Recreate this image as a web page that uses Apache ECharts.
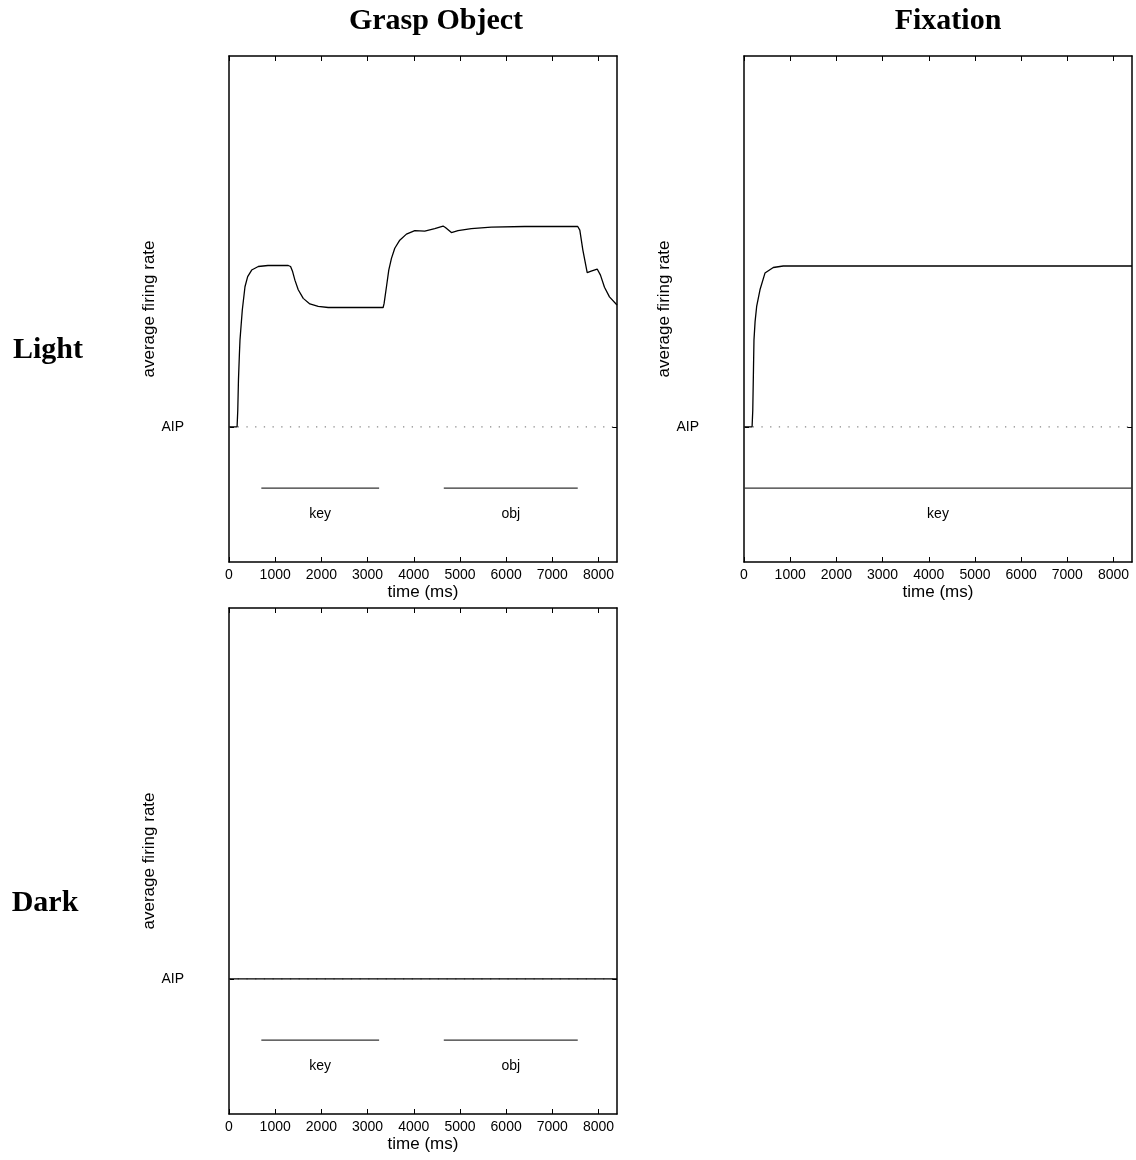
<!DOCTYPE html>
<html><head><meta charset="utf-8">
<script src="https://cdn.jsdelivr.net/npm/echarts@6/dist/echarts.min.js"></script>
<style>html,body{margin:0;padding:0;background:#fff}#c{width:1136px;height:1160px}</style>
</head><body><div id="c"></div>
<script>
// ---- data ----
const columnTitles = ['Grasp Object', 'Fixation'];
const rowTitles = ['Light', 'Dark'];
const xTickValues = [0, 1000, 2000, 3000, 4000, 5000, 6000, 7000, 8000];
const timeMax = 8400;
const rateMax = 100;
const aipLevel = 26.7;       // baseline (AIP) level
const eventBarLevel = 14.6;  // level of event bars
const eventLabelLevel = 9.5; // level of event labels

const graspLightTime = [0,175,190,205,225,238,259,288,346,404,491,634,843,1283,1333,1377,1427,1499,1607,1751,1931,2147,3337,3358,3409,3459,3517,3589,3697,3841,4022,4238,4454,4634,4685,4815,4958,5246,5678,6400,7550,7595,7660,7755,7841,7971,8042,8129,8237,8400];
const graspLightRate = [26.7,26.7,30,36,41,43.9,46.4,49.8,54.4,56.4,57.7,58.4,58.6,58.6,58.4,57.4,55.7,53.8,52.1,51.0,50.5,50.3,50.3,51.1,54.4,57.7,60.0,62.0,63.6,64.8,65.5,65.4,65.9,66.4,66.1,65.1,65.5,65.9,66.2,66.3,66.3,65.6,61.7,57.2,57.5,57.9,56.7,54.3,52.4,50.8];

const fixationLightTime = [0,175,190,205,216,240,274,346,454,634,850,8400];
const fixationLightRate = [26.7,26.7,30,38,43.9,47.5,50.5,53.8,57.1,58.2,58.5,58.5];

const graspDarkTime = [0, 8400];
const graspDarkRate = [26.7, 26.7];

const graspEventNames = ['key', 'obj'];
const graspEventStart = [700, 4650];
const graspEventEnd = [3250, 7550];

const fixationEventNames = ['key'];
const fixationEventStart = [0];
const fixationEventEnd = [8400];

// ---- chart ----
const panels = [
  {grid: {left: 229, top: 56, width: 388, height: 506}, time: graspLightTime, rate: graspLightRate,
   ev: [graspEventNames, graspEventStart, graspEventEnd]},
  {grid: {left: 744, top: 56, width: 388, height: 506}, time: fixationLightTime, rate: fixationLightRate,
   ev: [fixationEventNames, fixationEventStart, fixationEventEnd]},
  {grid: {left: 229, top: 608, width: 388, height: 506}, time: graspDarkTime, rate: graspDarkRate,
   ev: [graspEventNames, graspEventStart, graspEventEnd]}
];

const sans = 'Liberation Sans, Arial, Helvetica, sans-serif';
const grids = [], xAxes = [], yAxes = [], series = [];
panels.forEach((p, i) => {
  grids.push(Object.assign({containLabel: false}, p.grid));
  const axLine = {show: true, onZero: false, lineStyle: {color: '#000', width: 1.5}};
  xAxes.push({
    gridIndex: i, type: 'value', min: 0, max: timeMax, interval: 1000, position: 'bottom',
    axisLine: axLine, splitLine: {show: false},
    axisTick: {show: true, inside: true, length: 5, customValues: xTickValues, lineStyle: {color: '#000', width: 1}},
    axisLabel: {show: true, customValues: xTickValues, formatter: v => String(v), margin: 6,
      fontSize: 14, color: '#000', fontFamily: sans},
    name: 'time (ms)', nameLocation: 'middle', nameGap: 22,
    nameTextStyle: {fontSize: 17, color: '#000', fontFamily: sans}
  });
  xAxes.push({
    gridIndex: i, type: 'value', min: 0, max: timeMax, interval: 1000, position: 'top',
    axisLine: axLine, splitLine: {show: false},
    axisTick: {show: true, inside: true, length: 5, customValues: xTickValues, lineStyle: {color: '#000', width: 1}},
    axisLabel: {show: false}
  });
  yAxes.push({
    gridIndex: i, type: 'value', min: 0, max: rateMax, position: 'left',
    axisLine: axLine, splitLine: {show: false},
    axisTick: {show: true, inside: true, length: 5, customValues: [aipLevel], lineStyle: {color: '#000'}},
    axisLabel: {show: true, customValues: [aipLevel], formatter: () => 'AIP', margin: 45,
      fontSize: 14, color: '#000', fontFamily: sans},
    name: 'average firing rate', nameLocation: 'middle', nameGap: 69,
    nameTextStyle: {fontSize: 17, color: '#000', fontFamily: sans}
  });
  yAxes.push({
    gridIndex: i, type: 'value', min: 0, max: rateMax, position: 'right',
    axisLine: axLine, splitLine: {show: false},
    axisTick: {show: true, inside: true, length: 5, customValues: [aipLevel], lineStyle: {color: '#000'}},
    axisLabel: {show: false}
  });
  const xi = i * 2, yi = i * 2;
  // dotted AIP baseline
  series.push({
    type: 'line', xAxisIndex: xi, yAxisIndex: yi, showSymbol: false, silent: true, z: 2,
    data: [[0, aipLevel], [timeMax, aipLevel]],
    lineStyle: {color: '#888', width: 1.3, type: [1.3, 7.4]}
  });
  // response curve
  series.push({
    type: 'line', xAxisIndex: xi, yAxisIndex: yi, showSymbol: false, silent: true, z: 3,
    data: p.time.map((t, k) => [t, p.rate[k]]),
    lineStyle: {color: '#000', width: 1.3}
  });
  // event bars + labels
  const [names, starts, ends] = p.ev;
  names.forEach((n, k) => {
    series.push({
      type: 'line', xAxisIndex: xi, yAxisIndex: yi, showSymbol: false, silent: true, z: 2,
      data: [[starts[k], eventBarLevel], [ends[k], eventBarLevel]],
      lineStyle: {color: '#333', width: 1.1}
    });
  });
  series.push({
    type: 'scatter', xAxisIndex: xi, yAxisIndex: yi, symbolSize: 1, silent: true,
    itemStyle: {opacity: 0},
    data: names.map((n, k) => ({name: n, value: [(starts[k] + ends[k]) / 2, eventLabelLevel]})),
    label: {show: true, position: 'inside', formatter: '{b}', fontSize: 14, color: '#000',
      textBorderWidth: 0, opacity: 1, fontFamily: sans}
  });
});

const serif = 'bold 30px "Liberation Serif", "Times New Roman", serif';
const graphics = [
  {type: 'text', x: 436, y: 21, style: {text: columnTitles[0], font: serif, fill: '#000', textAlign: 'center', textVerticalAlign: 'middle'}},
  {type: 'text', x: 948, y: 21, style: {text: columnTitles[1], font: serif, fill: '#000', textAlign: 'center', textVerticalAlign: 'middle'}},
  {type: 'text', x: 48, y: 350, style: {text: rowTitles[0], font: serif, fill: '#000', textAlign: 'center', textVerticalAlign: 'middle'}},
  {type: 'text', x: 45, y: 903, style: {text: rowTitles[1], font: serif, fill: '#000', textAlign: 'center', textVerticalAlign: 'middle'}}
];

const chart = echarts.init(document.getElementById('c'), null, {renderer: 'canvas'});
chart.setOption({
  animation: false,
  backgroundColor: '#fff',
  grid: grids, xAxis: xAxes, yAxis: yAxes, series: series, graphic: graphics
});
</script></body></html>
